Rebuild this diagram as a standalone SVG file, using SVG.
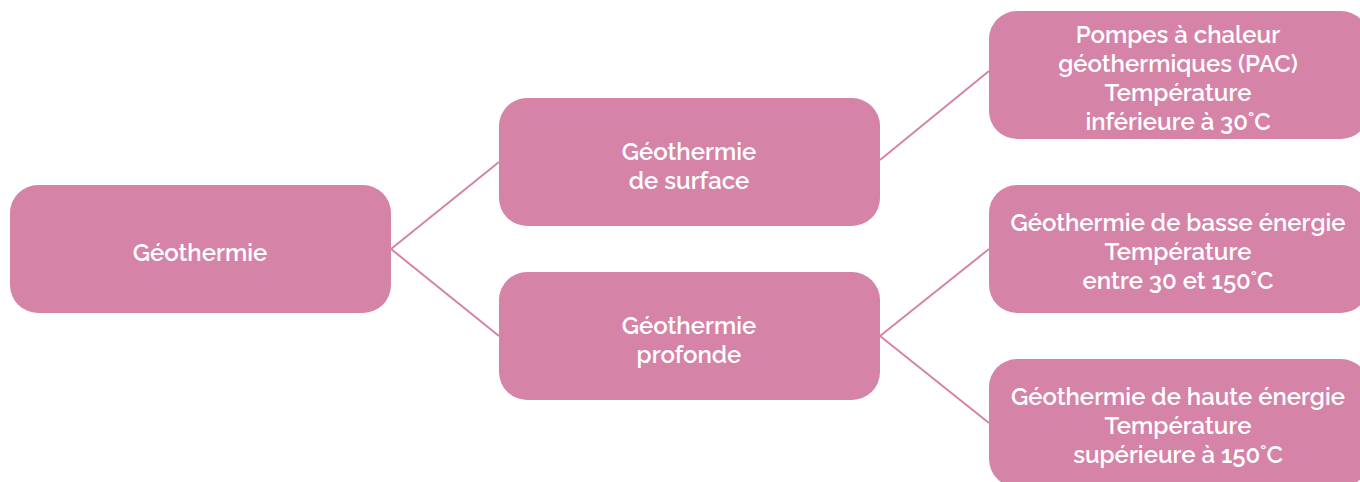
<svg xmlns="http://www.w3.org/2000/svg" width="1360" height="482" viewBox="0 0 1360 482">
<style>
.box{fill:#D583A7;}
.t{font-family:"Raleway","Lato","Open Sans","Liberation Sans",sans-serif;font-weight:600;font-size:24px;fill:#ffffff;text-anchor:middle;}
.c{stroke:#D583A7;stroke-width:2;fill:none;}
</style>
<rect width="1360" height="482" fill="#ffffff"/>
<g id="connectors">
<line class="c" x1="391" y1="249" x2="499" y2="162"/>
<line class="c" x1="391" y1="249" x2="499" y2="336"/>
<line class="c" x1="880" y1="160" x2="989" y2="71"/>
<line class="c" x1="880" y1="336" x2="989" y2="249"/>
<line class="c" x1="880" y1="336" x2="989" y2="423"/>
</g>
<g id="n-geothermie">
<rect class="box" x="10" y="185" width="381" height="128" rx="28"/>
<text class="t" x="200" y="261">Géothermie</text>
</g>
<g id="n-surface">
<rect class="box" x="499" y="98" width="381" height="128" rx="28"/>
<text class="t" x="689" y="160">Géothermie</text>
<text class="t" x="689" y="189">de surface</text>
</g>
<g id="n-profonde">
<rect class="box" x="499" y="272" width="381" height="128" rx="28"/>
<text class="t" x="689" y="334">Géothermie</text>
<text class="t" x="689" y="363">profonde</text>
</g>
<g id="n-pac">
<rect class="box" x="989" y="11" width="380" height="128" rx="28"/>
<text class="t" x="1178" y="43">Pompes à chaleur</text>
<text class="t" x="1178" y="72">géothermiques (PAC)</text>
<text class="t" x="1178" y="101">Température</text>
<text class="t" x="1178" y="130">inférieure à 30˚C</text>
</g>
<g id="n-basse">
<rect class="box" x="989" y="185" width="380" height="128" rx="28"/>
<text class="t" x="1178" y="231">Géothermie de basse énergie</text>
<text class="t" x="1178" y="260">Température</text>
<text class="t" x="1178" y="289">entre 30 et 150˚C</text>
</g>
<g id="n-haute">
<rect class="box" x="989" y="359" width="380" height="128" rx="28"/>
<text class="t" x="1178" y="405">Géothermie de haute énergie</text>
<text class="t" x="1178" y="434">Température</text>
<text class="t" x="1178" y="463">supérieure à 150˚C</text>
</g>
</svg>
